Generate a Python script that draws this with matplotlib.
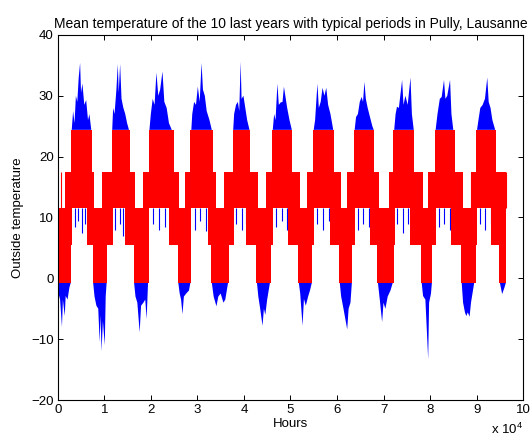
'''
Mean hourly outside temperature (Pully, Lausanne) with the typical periods
laid over it, redrawn in a MATLAB-like style.
'''

import matplotlib
matplotlib.use('Agg')
import matplotlib.pyplot as plt
import matplotlib.ticker as mticker

plt.rcParams['font.family'] = ['Liberation Sans', 'DejaVu Sans']
plt.rcParams['mathtext.fontset'] = 'custom'
plt.rcParams['mathtext.rm'] = 'Liberation Sans'

# Temperature levels of the typical periods (degC)
L0, L1, L2, L3, L4 = -0.7, 5.4, 11.6, 17.5, 24.4

# Typical periods, start / end in hours
winter_start = [0, 7500, 16300, 25800, 33000, 42700, 51700, 60500, 68700, 78100, 86700, 94900]
winter_end = [2800, 10500, 19500, 28600, 36900, 45900, 54700, 63300, 72200, 80500, 89900, 96400]
summer_start = [2800, 11600, 19500, 28500, 37600, 46100, 54900, 63700, 72100, 81100, 89900]
summer_end = [7300, 15500, 24900, 33300, 41400, 50400, 59400, 68000, 76600, 85400, 94200]
mid_start = [1600, 6300, 9500, 14500, 18300, 23900, 27400, 32300, 35700, 40400, 44700,
             49400, 53500, 58400, 62100, 67000, 71200, 75600, 79500, 84400, 88700, 93200]
mid_end = [3000, 7800, 11800, 16600, 19700, 26100, 28700, 34000, 37800, 43000, 46300,
           52000, 55100, 60800, 63900, 69000, 72400, 78400, 81300, 87000, 90100, 96300]

# Summer peaks of the measured temperature (above the top period level)
summer_t = [3000, 3300, 3600, 3900, 4200, 4500, 4800, 5000, 5300, 5700, 6100, 6500, 6800, 7200,
            11700, 11900, 12200, 12600, 12900, 13100, 13400, 13700, 14100, 14500, 14900, 15300,
            19700, 20000, 20400, 20800, 21200, 21600, 22000, 22500, 22900, 23400, 23900, 24500,
            28700, 28900, 29300, 29700, 30100, 30500, 30900, 31200, 31600, 32000, 32600, 33100,
            37700, 37900, 38300, 38700, 39000, 39300, 39500, 39900, 40300, 40700, 41200,
            46200, 46500, 46800, 47200, 47500, 47900, 48300, 48600, 48900, 49300, 49800, 50300,
            55000, 55300, 55800, 56100, 56500, 56900, 57300, 57700, 58100, 58600, 59200,
            63800, 64100, 64500, 64900, 65300, 65600, 65900, 66200, 66600, 67100, 67600, 67900,
            72300, 72600, 72900, 73300, 74000, 74300, 74700, 75200, 75800, 76100, 76500,
            81200, 81600, 82100, 82500, 83000, 83300, 83700, 84300, 84600, 85000,
            90100, 90400, 90800, 91300, 91800, 92300, 92600, 93000, 93400, 94000]
summer_v = [24.4, 27.5, 25.5, 30, 29, 33, 35.4, 30.5, 32, 28.5, 29.3, 26, 27, 24.4,
            24.4, 28, 27, 31, 35.2, 30.5, 35.2, 29.5, 28, 27, 25.5, 24.4,
            24.4, 27, 29.5, 28.5, 33.8, 30, 31, 34, 29, 28, 25.5, 24.4,
            24.4, 27, 29, 28.5, 31.5, 29, 35.4, 31, 30, 27.5, 26, 24.4,
            24.4, 27, 28.5, 29, 27.5, 35.6, 29.5, 30, 28, 26, 24.4,
            24.4, 27, 26, 32, 28.5, 28.9, 29, 31.5, 30, 28, 26, 24.4,
            24.4, 26, 32, 28, 29, 31.3, 30, 31.3, 28.5, 27, 24.4,
            24.4, 26.5, 27, 29, 29.8, 29, 32.3, 29.5, 28, 26.5, 25, 24.4,
            24.4, 27, 28.2, 28, 32.6, 28.5, 30, 28.5, 33, 27, 24.4,
            24.4, 27, 29.5, 29.8, 32.6, 29.5, 30, 32.6, 27, 24.4,
            24.4, 26, 28, 28.5, 29.5, 33, 29, 28, 26, 24.4]

# Winter lows of the measured temperature (below the bottom period level)
winter_t = [0, 500, 900, 1100, 1500, 1700, 2100, 2500, 2800,
            7600, 7900, 8300, 8700, 9000, 9200, 9400, 9700, 10100, 10300, 10500,
            16400, 16700, 17100, 17600, 17900, 18400, 18800, 19100, 19400,
            25900, 26200, 26500, 26800, 27100, 27600, 28200, 28500,
            33100, 33500, 34100, 34500, 35000, 35600, 36000, 36600,
            42800, 43100, 43500, 44000, 44300, 44600, 45000, 45600,
            51800, 52100, 52600, 52900, 53300, 53800, 54200, 54600,
            60600, 60900, 61400, 62200, 62500, 62900, 63200,
            68800, 69200, 69700, 70000, 70400, 70900, 71500, 72000,
            78200, 78500, 79000, 79600, 79800, 80200, 80400,
            86800, 87100, 87500, 87800, 88100, 88500, 88800, 89500,
            95000, 95500, 96000, 96300]
winter_v = [-2, -3.5, -8, -3.5, -6.2, -2.9, -3.5, -1.5, -0.7,
            -0.7, -3, -4.5, -5, -10.5, -6, -12, -7, -11, -3, -0.7,
            -0.7, -3, -4, -8.9, -4.5, -4, -3.5, -6.7, -0.7,
            -0.7, -2.5, -3.5, -5.9, -3, -2.5, -2, -0.7,
            -0.7, -3, -4.6, -3, -2.5, -4, -3.5, -0.7,
            -0.7, -3, -5, -7.8, -5, -6, -3.5, -0.7,
            -0.7, -2.5, -7.8, -3.4, -4.5, -3, -2, -0.7,
            -0.7, -3, -5, -8.4, -5, -4, -0.7,
            -0.7, -3.5, -7.2, -4, -5, -3, -2, -0.7,
            -0.7, -2.9, -3.5, -13.3, -4, -2.5, -0.7,
            -0.7, -4, -5.6, -6.2, -5.6, -6.3, -4, -0.7,
            -0.7, -2.6, -1.5, -0.7]

# Blue spikes hanging below the summer periods
hole_t = [3600, 4300, 5200, 5900, 12400, 13300, 14100, 20500, 21800, 23000,
          29400, 30600, 31800, 38300, 39600, 40500, 47000, 48100, 49200,
          55800, 57000, 58200, 64600, 65700, 66800, 73000, 74100, 75300,
          81900, 83100, 84200, 90800, 91900, 93000]
hole_low = [8.5, 9.5, 7.5, 9, 8, 9, 7, 9, 8, 8.5,
            8, 9.5, 7.8, 9, 8, 9, 8.5, 9.5, 8,
            9, 8, 9.5, 8, 9, 8.5, 9, 7.5, 9,
            8.5, 9, 8, 9, 8, 9]

# Thin red lines between the periods
spike_t = [600, 10200, 10400, 18700, 19200, 27700, 28300, 36200, 36600, 45200, 45700,
           53900, 54400, 62800, 63100, 71500, 79800, 80200, 88900, 89400, 96300]


def draw_series(ax):
    '''
    Blue measured temperature first, typical periods in red on top
    '''
    ax.fill_between(summer_t, L4, summer_v, facecolor='#0000ff', lw=0, zorder=1)
    ax.fill_between(winter_t, winter_v, L0, facecolor='#0000ff', lw=0, zorder=1)
    ax.vlines(hole_t, hole_low, L2, color='#0000ff', lw=0.8, zorder=1)

    # period blocks: winter, spring/autumn, summer
    for starts, ends, lo, hi in [(winter_start, winter_end, L0, L2),
                                 (mid_start, mid_end, L1, L3),
                                 (summer_start, summer_end, L2, L4)]:
        widths = [e - s for s, e in zip(starts, ends)]
        ax.bar(starts, hi - lo, width=widths, bottom=lo, align='edge',
               color='#ff0000', linewidth=0, zorder=2)
    ax.vlines(spike_t, L2, L3, color='#ff0000', lw=0.8, zorder=2)


def format_axes(fig, ax):
    '''
    MATLAB look: box, ticks inside, x axis in units of 10^4
    '''
    ax.set_xlim(0, 100000)
    ax.set_ylim(-20, 40)
    ax.xaxis.set_major_locator(mticker.MultipleLocator(10000))
    ax.xaxis.set_major_formatter(mticker.FuncFormatter(lambda v, p: f'{v / 1e4:g}'))
    ax.yaxis.set_major_locator(mticker.MultipleLocator(10))
    ax.tick_params(direction='in', top=True, right=True, length=3.5, width=0.7,
                   labelsize=9.5, pad=3)
    for sp in ax.spines.values():
        sp.set_linewidth(0.8)

    ax.set_title('Mean temperature of the 10 last years with typical periods in Pully, Lausanne',
                 fontsize=10, pad=5)
    ax.set_xlabel('Hours', fontsize=9.5, labelpad=1)
    ax.set_ylabel('Outside temperature', fontsize=9.5, labelpad=5)
    fig.text(0.987, 0.012, r'x 10$^4$', fontsize=9.5, ha='right', va='bottom')


fig = plt.figure(figsize=(5.3, 4.42), dpi=100)
ax = fig.add_axes([0.109, 0.095, 0.878, 0.826])
draw_series(ax)
format_axes(fig, ax)
fig.savefig('out.png', dpi=100, facecolor='white')
